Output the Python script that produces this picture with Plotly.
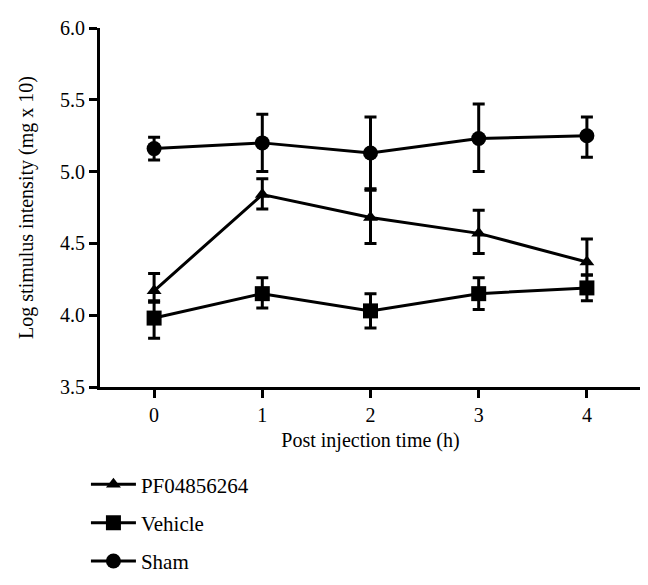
import plotly.graph_objects as go

time_h = [0, 1, 2, 3, 4]

pf_mean = [4.17, 4.84, 4.68, 4.57, 4.37]
pf_upper = [4.29, 4.95, 4.87, 4.73, 4.53]
pf_lower = [4.10, 4.74, 4.50, 4.43, 4.28]

veh_mean = [3.98, 4.15, 4.03, 4.15, 4.19]
veh_upper = [4.09, 4.26, 4.15, 4.26, 4.28]
veh_lower = [3.84, 4.05, 3.91, 4.04, 4.10]

sham_mean = [5.16, 5.20, 5.13, 5.23, 5.25]
sham_upper = [5.24, 5.40, 5.38, 5.47, 5.38]
sham_lower = [5.08, 5.00, 4.88, 5.00, 5.10]

y_ticks = [3.5, 4.0, 4.5, 5.0, 5.5, 6.0]

FONT = "Liberation Serif"

def err(mean, up, lo):
    return dict(type="data", symmetric=False,
                array=[u - m for u, m in zip(up, mean)],
                arrayminus=[m - l for m, l in zip(mean, lo)],
                color="black", thickness=3, width=6)

series = [
    ("PF04856264", pf_mean, pf_upper, pf_lower, "triangle-up", 13),
    ("Vehicle", veh_mean, veh_upper, veh_lower, "square", 15),
    ("Sham", sham_mean, sham_upper, sham_lower, "circle", 15),
]

fig = go.Figure()
for i, (name, m, up, lo, sym, sz) in enumerate(series):
    fig.add_trace(go.Scatter(
        x=time_h, y=m, name=name, mode="lines+markers",
        line=dict(color="black", width=3),
        marker=dict(symbol=sym, size=sz, color="black"),
        error_y=err(m, up, lo),
        legendgroup=f"g{i}",
    ))

axis_common = dict(
    showline=True, linecolor="black", linewidth=3,
    ticks="outside", ticklen=8, tickwidth=3, tickcolor="black",
    showgrid=False, zeroline=False, automargin=False,
    tickfont=dict(family=FONT, size=20, color="black"),
)

fig.update_layout(
    width=648, height=585,
    margin=dict(l=92, r=15, t=20, b=204),
    paper_bgcolor="white", plot_bgcolor="white",
    font=dict(family=FONT, size=20, color="black"),
    xaxis=dict(range=[-0.5, 4.5], tickvals=time_h,
               title=dict(text="Post injection time (h)",
                          font=dict(family=FONT, size=20), standoff=8),
               **axis_common),
    yaxis=dict(range=[3.5, 6.0], tickvals=y_ticks,
               ticktext=[f"{v:.1f}" for v in y_ticks],
               title=dict(text="Log stimulus intensity (mg x 10)",
                          font=dict(family=FONT, size=20), standoff=22),
               **axis_common),
    legend=dict(x=-0.026, y=-0.215, xanchor="left", yanchor="top",
                traceorder="grouped", tracegroupgap=8,
                font=dict(family=FONT, size=21, color="black"),
                itemwidth=45, bgcolor="rgba(0,0,0,0)"),
    showlegend=True,
)

fig.write_html("out.html")
